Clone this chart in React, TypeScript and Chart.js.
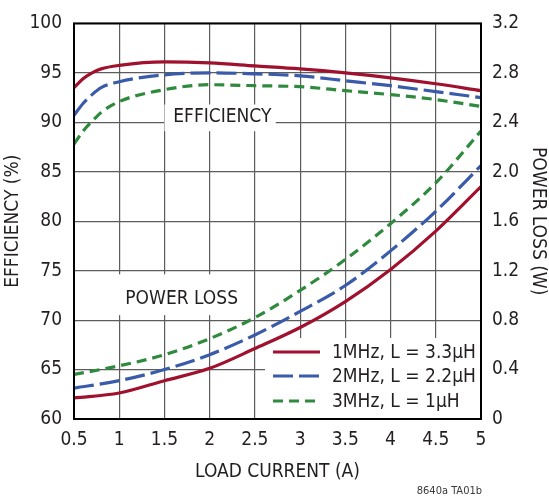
import React, { useEffect, useRef } from 'react';
import { Chart, registerables } from 'chart.js';

Chart.register(...registerables);

// efficiency curves (%), sampled on effCurrent (A)
const effCurrent = [0.5, 0.6, 0.7, 0.8, 1, 1.5, 2, 2.5, 3, 3.5, 4, 4.5, 5];
const eff1MHz = [93.5, 94.4, 95.0, 95.4, 95.75, 96.1, 96.0, 95.7, 95.4, 95.0, 94.5, 93.9, 93.2];
const eff2MHz = [90.7, 91.9, 92.8, 93.5, 94.1, 94.8, 95.0, 94.9, 94.7, 94.2, 93.7, 93.1, 92.5];
const eff3MHz = [87.8, 89.1, 90.1, 91.0, 92.1, 93.3, 93.8, 93.7, 93.6, 93.2, 92.8, 92.3, 91.6];

// power loss curves (W), sampled on lossCurrent (A)
const lossCurrent = [0.5, 1, 1.5, 2, 2.5, 3, 3.5, 4, 4.5, 5];
const loss1MHz = [0.17, 0.21, 0.31, 0.41, 0.57, 0.74, 0.95, 1.21, 1.52, 1.88];
const loss2MHz = [0.25, 0.31, 0.40, 0.52, 0.68, 0.87, 1.08, 1.36, 1.68, 2.05];
const loss3MHz = [0.36, 0.43, 0.52, 0.65, 0.82, 1.04, 1.29, 1.58, 1.91, 2.33];

const seriesNames = ['1MHz, L = 3.3µH', '2MHz, L = 2.2µH', '3MHz, L = 1µH'];

const xTicks = [0.5, 1, 1.5, 2, 2.5, 3, 3.5, 4, 4.5, 5];
const xTickLabels = ['0.5', '1', '1.5', '2', '2.5', '3', '3.5', '4', '4.5', '5'];
const effTicks = [60, 65, 70, 75, 80, 85, 90, 95, 100];
const effTickLabels = ['60', '65', '70', '75', '80', '85', '90', '95', '100'];
const lossTicks = [0, 0.4, 0.8, 1.2, 1.6, 2.0, 2.4, 2.8, 3.2];
const lossTickLabels = ['0', '0.4', '0.8', '1.2', '1.6', '2.0', '2.4', '2.8', '3.2'];

const RED = '#a0112e';
const BLUE = '#3a5ba9';
const GREEN = '#2f8a3e';
const TEXT = '#231f20';
const GRID = '#5c5c5c';
const FONT = "'DejaVu Sans Condensed', 'Liberation Sans', sans-serif";
const FS = 19;

const styles = [
  { color: RED, dash: [] as number[] },
  { color: BLUE, dash: [20, 6] },
  { color: GREEN, dash: [10, 6] },
];

const toPoints = (xs: number[], ys: number[]) => ys.map((y, i) => ({ x: xs[i], y }));

const overlay = {
  id: 'overlay',
  beforeDatasetsDraw(chart: any) {
    const { ctx, chartArea, scales } = chart;
    const { x, y, y2 } = scales;
    ctx.save();
    ctx.fillStyle = '#ffffff';
    // label boxes hide the grid behind the text
    const effL = x.getPixelForValue(1.5), effR = x.getPixelForValue(2.73);
    const effT = y.getPixelForValue(91.8), effB = y.getPixelForValue(89.1);
    ctx.fillRect(effL, effT, effR - effL, effB - effT);
    const plL = x.getPixelForValue(0.95), plR = x.getPixelForValue(2.47);
    const plT = y2.getPixelForValue(1.17), plB = y2.getPixelForValue(0.84);
    ctx.fillRect(plL, plT, plR - plL, plB - plT);
    // legend box
    ctx.fillRect(chartArea.right - 216, chartArea.bottom - 81, 216, 81);
    ctx.restore();
  },
  afterDatasetsDraw(chart: any) {
    const { ctx, chartArea, scales } = chart;
    const { x, y, y2 } = scales;
    ctx.save();
    ctx.fillStyle = TEXT;
    ctx.font = `${FS}px ${FONT}`;
    ctx.textAlign = 'center';
    ctx.textBaseline = 'middle';
    ctx.fillText('EFFICIENCY', x.getPixelForValue(2.14), y.getPixelForValue(90.55));
    ctx.fillText('POWER LOSS', x.getPixelForValue(1.69), y2.getPixelForValue(0.97));

    // legend
    const lx = chartArea.right - 208;
    const rowY = [chartArea.bottom - 67, chartArea.bottom - 43, chartArea.bottom - 18];
    ctx.textAlign = 'left';
    seriesNames.forEach((name, i) => {
      ctx.beginPath();
      ctx.strokeStyle = styles[i].color;
      ctx.lineWidth = 3.2;
      ctx.setLineDash(styles[i].dash);
      ctx.moveTo(lx, rowY[i]);
      ctx.lineTo(lx + 47, rowY[i]);
      ctx.stroke();
      ctx.setLineDash([]);
      ctx.fillStyle = TEXT;
      ctx.fillText(name, lx + 59, rowY[i] + 1);
    });

    // frame
    ctx.strokeStyle = '#000';
    ctx.lineWidth = 2;
    ctx.strokeRect(chartArea.left, chartArea.top, chartArea.right - chartArea.left, chartArea.bottom - chartArea.top);

    // figure id
    ctx.font = `11px ${FONT}`;
    ctx.fillStyle = '#3a3a3a';
    ctx.textAlign = 'right';
    ctx.fillText('8640a TA01b', chartArea.right + 1, 491);
    ctx.restore();
  },
};

const App = () => {
  const canvasRef = useRef<HTMLCanvasElement>(null);

  useEffect(() => {
    document.body.style.margin = '0';
    Chart.defaults.font.family = FONT;
    Chart.defaults.color = TEXT;

    const effSeries = [eff1MHz, eff2MHz, eff3MHz];
    const lossSeries = [loss1MHz, loss2MHz, loss3MHz];
    const lineStyle = (i: number) => ({
      borderColor: styles[i].color,
      borderDash: styles[i].dash,
      borderWidth: 3.2,
      borderCapStyle: 'butt' as const,
      pointRadius: 0,
      cubicInterpolationMode: 'monotone' as const,
      fill: false,
    });

    const chart = new Chart(canvasRef.current!, {
      type: 'line',
      data: {
        datasets: [
          ...effSeries.map((s, i) => ({
            label: `${seriesNames[i]} efficiency`,
            data: toPoints(effCurrent, s),
            yAxisID: 'y',
            ...lineStyle(i),
          })),
          ...lossSeries.map((s, i) => ({
            label: `${seriesNames[i]} power loss`,
            data: toPoints(lossCurrent, s),
            yAxisID: 'y2',
            ...lineStyle(i),
          })),
        ],
      },
      options: {
        responsive: true,
        maintainAspectRatio: false,
        animation: false,
        layout: { padding: { top: 13, left: 0, right: 0, bottom: 0 } },
        scales: {
          x: {
            type: 'linear',
            min: 0.5,
            max: 5,
            afterBuildTicks: (s: any) => { s.ticks = xTicks.map((value) => ({ value })); },
            afterFit: (s: any) => { s.height = 81; },
            ticks: {
              callback: (_v: any, i: number) => xTickLabels[i],
              padding: 10,
              font: { size: FS },
              color: TEXT,
              maxRotation: 0,
            },
            grid: { color: GRID, lineWidth: 1.2, drawTicks: false },
            border: { display: false },
            title: {
              display: true,
              text: 'LOAD CURRENT (A)',
              font: { size: FS },
              color: TEXT,
              padding: { top: 17, bottom: 17 },
            },
          },
          y: {
            type: 'linear',
            position: 'left',
            min: 60,
            max: 100,
            afterBuildTicks: (s: any) => { s.ticks = effTicks.map((value) => ({ value })); },
            afterFit: (s: any) => { s.width = 74; },
            ticks: {
              callback: (_v: any, i: number) => effTickLabels[i],
              padding: 12,
              font: { size: FS },
              color: TEXT,
            },
            grid: { color: GRID, lineWidth: 1.2, drawTicks: false },
            border: { display: false },
            title: {
              display: true,
              text: 'EFFICIENCY (%)',
              font: { size: FS },
              color: TEXT,
              padding: { top: 2, bottom: 2 },
            },
          },
          y2: {
            type: 'linear',
            position: 'right',
            min: 0,
            max: 3.2,
            afterBuildTicks: (s: any) => { s.ticks = lossTicks.map((value) => ({ value })); },
            afterFit: (s: any) => { s.width = 68; },
            ticks: {
              callback: (_v: any, i: number) => lossTickLabels[i],
              padding: 11,
              font: { size: FS },
              color: TEXT,
            },
            grid: { display: false, drawTicks: false },
            border: { display: false },
            title: {
              display: true,
              text: 'POWER LOSS (W)',
              font: { size: FS },
              color: TEXT,
              padding: { top: 0, bottom: 0 },
            },
          },
        },
        plugins: {
          legend: { display: false },
          tooltip: { enabled: false },
        },
      },
      plugins: [overlay],
    });

    return () => chart.destroy();
  }, []);

  return (
    <div style={{ position: 'relative', width: 549, height: 500 }}>
      <canvas ref={canvasRef} />
    </div>
  );
};

export default App;
